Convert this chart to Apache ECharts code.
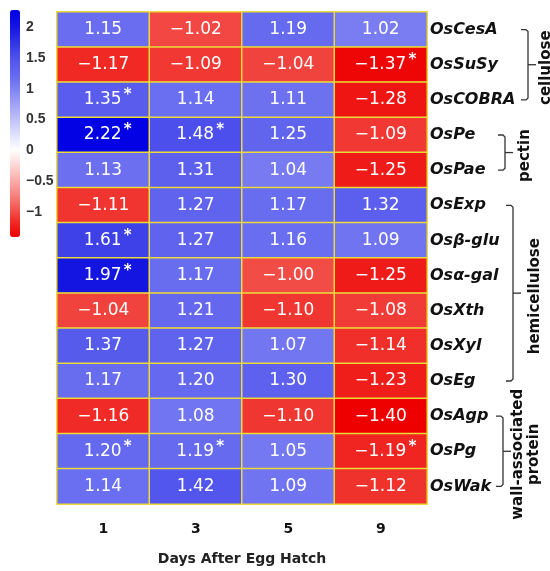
<!DOCTYPE html>
<html>
<head>
<meta charset="utf-8">
<script src="https://cdn.jsdelivr.net/npm/echarts@6/dist/echarts.min.js"></script>
<style>
html,body{margin:0;padding:0;background:#fff;}
#chart{width:550px;height:571px;}
</style>
</head>
<body>
<div id="chart"></div>
<script>
// ---- data ----
const genes = ['OsCesA','OsSuSy','OsCOBRA','OsPe','OsPae','OsExp','Osβ-glu','Osα-gal','OsXth','OsXyl','OsEg','OsAgp','OsPg','OsWak'];
const days = ['1','3','5','9'];
const day1 = [1.15,-1.17,1.35,2.22,1.13,-1.11,1.61,1.97,-1.04,1.37,1.17,-1.16,1.20,1.14];
const day3 = [-1.02,-1.09,1.14,1.48,1.31,1.27,1.27,1.17,1.21,1.27,1.20,1.08,1.19,1.42];
const day5 = [1.19,-1.04,1.11,1.25,1.04,1.17,1.16,-1.00,-1.10,1.07,1.30,-1.10,1.05,1.09];
const day9 = [1.02,-1.37,-1.28,-1.09,-1.25,1.32,1.09,-1.25,-1.08,-1.14,-1.23,-1.40,-1.19,-1.12];
const sig1 = [0,0,1,1,0,0,1,1,0,0,0,0,1,0];
const sig3 = [0,0,0,1,0,0,0,0,0,0,0,0,1,0];
const sig5 = [0,0,0,0,0,0,0,0,0,0,0,0,0,0];
const sig9 = [0,1,0,0,0,0,0,0,0,0,0,0,1,0];
const colorbarTicks = [-1,-0.5,0,0.5,1,1.5,2];
const groups = [
  {label:['cellulose'], from:0, to:2},
  {label:['pectin'], from:3, to:4},
  {label:['hemicellulose'], from:5, to:10},
  {label:['wall-associated','protein'], from:11, to:13}
];

const cols = [day1, day3, day5, day9];
const sigs = [sig1, sig3, sig5, sig9];
const data = [];
cols.forEach((arr, ci) => {
  arr.forEach((v, ri) => data.push([ci, ri, v, sigs[ci][ri]]));
});

const fmt = v => v.toFixed(2).replace('-', '\u2212');

const chart = echarts.init(document.getElementById('chart'));
const option = {
  animation: false,
  backgroundColor: '#ffffff',
  grid: [
    {left: 57, right: 123, top: 12, bottom: 62},
    {left: 10, width: 10, top: 27, height: 185}
  ],
  xAxis: [
    {type:'category', data: days, gridIndex:0, position:'bottom',
     axisLine:{show:false}, axisTick:{show:false}, splitLine:{show:false},
     axisLabel:{margin:18, fontFamily:'DejaVu Sans', fontWeight:'bold', fontSize:14, color:'#111'},
     name:'Days After Egg Hatch', nameLocation:'middle', nameGap:48,
     nameTextStyle:{fontFamily:'DejaVu Sans', fontWeight:'bold', fontSize:14, color:'#222'}},
    {type:'value', gridIndex:1, show:false}
  ],
  yAxis: [
    {type:'category', data: genes, gridIndex:0, inverse:true, position:'right',
     axisLine:{show:false}, axisTick:{show:false}, splitLine:{show:false},
     axisLabel:{margin:3, fontFamily:'DejaVu Sans', fontWeight:'bold', fontStyle:'italic', fontSize:16, color:'#111'}},
    {type:'value', gridIndex:1, position:'right', min:-1, max:2, interval:0.5,
     axisLine:{show:false}, axisTick:{show:false}, splitLine:{show:false},
     axisLabel:{margin:6, fontFamily:'Liberation Sans', fontWeight:'bold', fontSize:14, color:'#333',
       formatter: v => colorbarTicks.includes(v) ? String(v).replace('-', '\u2212') : ''}}
  ],
  visualMap: {
    type:'continuous', seriesIndex:0, dimension:2, min:-1.4, max:2.24,
    orient:'vertical', left:10, top:10, itemWidth:10, itemHeight:227, padding:0,
    calculable:false, hoverLink:false, show:true,
    inRange:{color:['#ee0000','#f0322d','#f56e69','#faa09e','#fdd2d0','#ffffff',
                    '#dadbfb','#b5b7f8','#9194f4','#6c70f0','#5558ec','#3739e7','#1616e2','#0000e4']}
  },
  series: [{
    type:'heatmap', xAxisIndex:0, yAxisIndex:0, data: data,
    itemStyle:{borderColor:'#ecd93a', borderWidth:1.5},
    label:{show:true, color:'#ffffff', fontFamily:'DejaVu Sans', fontSize:17,
      formatter: p => p.data[3] ? '{p|}{v|' + fmt(p.data[2]) + '}{s|*}' : '{v|' + fmt(p.data[2]) + '}',
      rich:{
        v:{color:'#fff', fontFamily:'DejaVu Sans', fontSize:17},
        p:{width:10},
        s:{width:10, color:'#fff', fontFamily:'DejaVu Sans', fontWeight:'bold', fontSize:15, padding:[0,0,9,1]}
      }},
    emphasis:{disabled:true}
  }]
};
chart.setOption(option);

// brackets and group labels
const bx = [528, 505, 513, 503];
const lx = [[546], [525], [535], [518, 534]];
const gfx = [];
groups.forEach((g, i) => {
  const yTop = chart.convertToPixel({yAxisIndex:0}, genes[g.from]);
  const yBot = chart.convertToPixel({yAxisIndex:0}, genes[g.to]);
  const yMid = (yTop + yBot) / 2;
  const x1 = bx[i];
  gfx.push({type:'polyline', silent:true,
    shape:{points:[[x1-7,yTop],[x1-2,yTop],[x1,yTop+2],[x1,yBot-2],[x1-2,yBot],[x1-7,yBot]]},
    style:{stroke:'#333', lineWidth:1.3, fill:null}});
  gfx.push({type:'line', silent:true,
    shape:{x1:x1, y1:yMid, x2:x1+8, y2:yMid}, style:{stroke:'#333', lineWidth:1.3}});
  g.label.forEach((t, j) => {
    gfx.push({type:'text', silent:true, x:lx[i][j], y:yMid + 3, rotation:Math.PI/2,
      style:{text:t, fontFamily:'DejaVu Sans', fontWeight:'bold', fontSize:15, fill:'#111',
             align:'center', verticalAlign:'middle'}});
  });
});
chart.setOption({graphic: gfx});
</script>
</body>
</html>
